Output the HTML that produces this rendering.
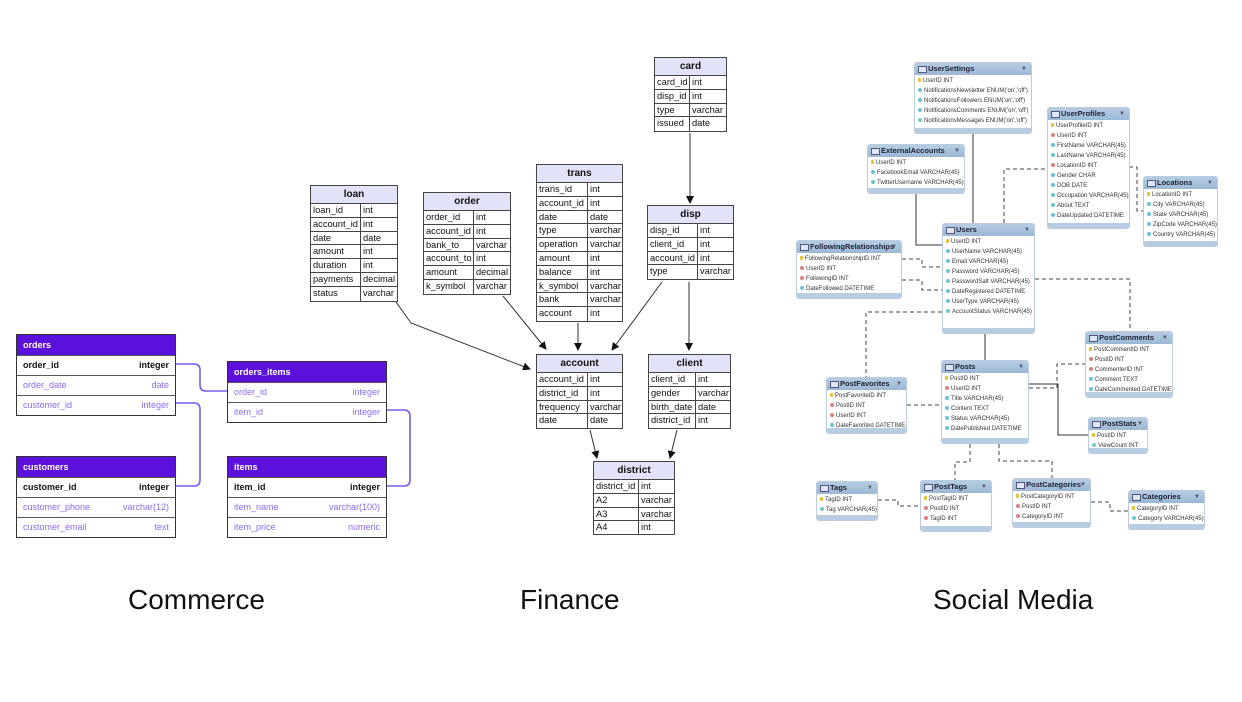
<!DOCTYPE html>
<html><head><meta charset="utf-8"><style>
body{margin:0;width:1242px;height:702px;background:#fff;position:relative;overflow:hidden;font-family:"Liberation Sans",sans-serif}
.ct{position:absolute;width:158px;border:1px solid #333;background:#fff;font-size:9px}
.ct .h{height:20px;line-height:20px;background:#5b10dc;color:#fff;padding-left:6px;font-weight:bold}
.ct .r{height:19px;line-height:19px;border-top:1px solid #555;padding:0 6px;display:flex;justify-content:space-between;color:#8a6cf0}
.ct .r.k{color:#111;font-weight:bold}
.ft{position:absolute;border:1px solid #444;background:#fff;font-size:9.3px;color:#111;box-sizing:border-box}
.ft .h{height:18px;line-height:18px;background:#e2e2f8;text-align:center;font-weight:bold;font-size:10px;border-bottom:1px solid #444;box-sizing:border-box}
.ft .r{height:13.8px;line-height:13.8px;border-bottom:1px solid #444;box-sizing:border-box;display:flex;white-space:nowrap;overflow:hidden}
.ft .r:last-child{border-bottom:none}
.ft .r span{padding-left:2px;box-sizing:border-box;overflow:hidden}
.ft .r span:first-child{border-right:1px solid #444;flex:none}
.st{position:absolute;border:1px solid #b9cbdc;border-radius:3px;background:#fff;font-size:6px;color:#333;box-sizing:border-box;overflow:hidden;white-space:nowrap}
.st .h{height:12px;line-height:12px;background:linear-gradient(#b5cde3,#9ab8d4);font-weight:bold;font-size:7.5px;color:#223;padding-left:13px;position:relative;margin-bottom:1px}
.st .h:before{content:"";position:absolute;left:3px;top:3px;width:7px;height:5px;border:1px solid #557;background:#dde6f5}
.st .h:after{content:"▼";position:absolute;right:4px;top:0;font-size:6px;color:#556}
.st .r{height:10px;line-height:10px;padding-left:3px}
.st .r:before{content:"";display:inline-block;width:4px;height:4px;border-radius:50%;background:#6cc3d5;margin-right:2px;vertical-align:middle}
.st .r.pk:before{background:#e8c030;border-radius:1px;width:3px}
.st .r.fk:before{background:#d98080}
.st .b{position:absolute;left:0;right:0;bottom:0;height:5px;background:#b7cde1}
.lab{position:absolute;font-size:28px;color:#111;top:584px}
</style></head><body>

<svg width="1242" height="702" style="position:absolute;left:0;top:0">
<defs><marker id="a" markerWidth="8" markerHeight="8" refX="7" refY="4" orient="auto" markerUnits="userSpaceOnUse"><path d="M0,0 L8,4 L0,8z" fill="#111"/></marker></defs>
<g fill="none" stroke="#7a5af0" stroke-width="1.6">
<path d="M175,364 H194 Q200,364 200,370 V385 Q200,391 206,391 H227"/>
<path d="M175,403 H194 Q200,403 200,409 V480 Q200,486 194,486 H175"/>
<path d="M386,410 H404 Q410,410 410,416 V480 Q410,486 404,486 H386"/>
</g>
<g fill="none" stroke="#333" stroke-width="1" marker-end="url(#a)">
<path d="M690,133 V203"/>
<path d="M396,302 L411,323 L530,369"/>
<path d="M503,296 L546,349"/>
<path d="M578,323 V350"/>
<path d="M662,282 L612,350"/>
<path d="M689,282 V350"/>
<path d="M590,430 L597,458"/>
<path d="M677,430 L670,458"/>
</g>
<g fill="none" stroke="#333" stroke-width="1">
<path d="M973,134 V223"/>
<path d="M916,194 V245 H942"/>
<path d="M1029,384 H1058 V435 H1088"/>
<path d="M985,334 V360"/>
</g>
<g fill="none" stroke="#444" stroke-width="1" stroke-dasharray="4,3">
<path d="M1004,223 V169 H1047"/>
<path d="M1129,167 H1137 V211 H1143"/>
<path d="M902,259 H922 V267 H942"/>
<path d="M902,280 H922 V290 H942"/>
<path d="M1035,279 H1130 V331"/>
<path d="M942,312 H866 V377"/>
<path d="M1029,388 H1057 V364 H1085"/>
<path d="M907,405 H941"/>
<path d="M970,444 V462 H955 V480"/>
<path d="M999,444 V461 H1052 V478"/>
<path d="M878,500 H898 V506 H920"/>
<path d="M1091,502 H1110 V511 H1128"/>
</g>
</svg>

<!-- Commerce -->
<div class="ct" style="left:16px;top:334px"><div class="h">orders</div><div class="r k"><span>order_id</span><span>integer</span></div><div class="r"><span>order_date</span><span>date</span></div><div class="r"><span>customer_id</span><span>integer</span></div></div>
<div class="ct" style="left:227px;top:361px"><div class="h">orders_items</div><div class="r"><span>order_id</span><span>integer</span></div><div class="r"><span>item_id</span><span>integer</span></div></div>
<div class="ct" style="left:16px;top:456px"><div class="h">customers</div><div class="r k"><span>customer_id</span><span>integer</span></div><div class="r"><span>customer_phone</span><span>varchar(12)</span></div><div class="r"><span>customer_email</span><span>text</span></div></div>
<div class="ct" style="left:227px;top:456px"><div class="h">items</div><div class="r k"><span>item_id</span><span>integer</span></div><div class="r"><span>item_name</span><span>varchar(100)</span></div><div class="r"><span>item_price</span><span>numeric</span></div></div>

<!-- Finance -->
<div class="ft" style="left:654px;top:57px;width:73px"><div class="h">card</div>
<div class="r"><span style="width:35px">card_id</span><span>int</span></div><div class="r"><span style="width:35px">disp_id</span><span>int</span></div><div class="r"><span style="width:35px">type</span><span>varchar</span></div><div class="r"><span style="width:35px">issued</span><span>date</span></div></div>
<div class="ft" style="left:536px;top:164px;width:87px"><div class="h">trans</div>
<div class="r"><span style="width:51px">trans_id</span><span>int</span></div><div class="r"><span style="width:51px">account_id</span><span>int</span></div><div class="r"><span style="width:51px">date</span><span>date</span></div><div class="r"><span style="width:51px">type</span><span>varchar</span></div><div class="r"><span style="width:51px">operation</span><span>varchar</span></div><div class="r"><span style="width:51px">amount</span><span>int</span></div><div class="r"><span style="width:51px">balance</span><span>int</span></div><div class="r"><span style="width:51px">k_symbol</span><span>varchar</span></div><div class="r"><span style="width:51px">bank</span><span>varchar</span></div><div class="r"><span style="width:51px">account</span><span>int</span></div></div>
<div class="ft" style="left:310px;top:185px;width:88px"><div class="h">loan</div>
<div class="r"><span style="width:50px">loan_id</span><span>int</span></div><div class="r"><span style="width:50px">account_id</span><span>int</span></div><div class="r"><span style="width:50px">date</span><span>date</span></div><div class="r"><span style="width:50px">amount</span><span>int</span></div><div class="r"><span style="width:50px">duration</span><span>int</span></div><div class="r"><span style="width:50px">payments</span><span>decimal</span></div><div class="r"><span style="width:50px">status</span><span>varchar</span></div></div>
<div class="ft" style="left:423px;top:192px;width:88px"><div class="h">order</div>
<div class="r"><span style="width:50px">order_id</span><span>int</span></div><div class="r"><span style="width:50px">account_id</span><span>int</span></div><div class="r"><span style="width:50px">bank_to</span><span>varchar</span></div><div class="r"><span style="width:50px">account_to</span><span>int</span></div><div class="r"><span style="width:50px">amount</span><span>decimal</span></div><div class="r"><span style="width:50px">k_symbol</span><span>varchar</span></div></div>
<div class="ft" style="left:647px;top:205px;width:87px"><div class="h">disp</div>
<div class="r"><span style="width:50px">disp_id</span><span>int</span></div><div class="r"><span style="width:50px">client_id</span><span>int</span></div><div class="r"><span style="width:50px">account_id</span><span>int</span></div><div class="r"><span style="width:50px">type</span><span>varchar</span></div></div>
<div class="ft" style="left:536px;top:354px;width:87px"><div class="h">account</div>
<div class="r"><span style="width:51px">account_id</span><span>int</span></div><div class="r"><span style="width:51px">district_id</span><span>int</span></div><div class="r"><span style="width:51px">frequency</span><span>varchar</span></div><div class="r"><span style="width:51px">date</span><span>date</span></div></div>
<div class="ft" style="left:648px;top:354px;width:83px"><div class="h">client</div>
<div class="r"><span style="width:47px">client_id</span><span>int</span></div><div class="r"><span style="width:47px">gender</span><span>varchar</span></div><div class="r"><span style="width:47px">birth_date</span><span>date</span></div><div class="r"><span style="width:47px">district_id</span><span>int</span></div></div>
<div class="ft" style="left:593px;top:461px;width:82px;height:74px;overflow:hidden;border-bottom:none"><div class="h">district</div>
<div class="r"><span style="width:45px">district_id</span><span>int</span></div><div class="r"><span style="width:45px">A2</span><span>varchar</span></div><div class="r"><span style="width:45px">A3</span><span>varchar</span></div><div class="r" style="border-bottom:1px solid #444"><span style="width:45px">A4</span><span>int</span></div></div>

<!-- Social -->
<div class="st" style="left:914px;top:62px;width:118px;height:72px"><div class="h">UserSettings</div><div class="r pk">UserID INT</div><div class="r">NotificationsNewsletter ENUM('on','off')</div><div class="r">NotificationsFollowers ENUM('on','off')</div><div class="r">NotificationsComments ENUM('on','off')</div><div class="r">NotificationsMessages ENUM('on','off')</div><div class="b"></div></div>
<div class="st" style="left:1047px;top:107px;width:83px;height:122px"><div class="h">UserProfiles</div><div class="r pk">UserProfileID INT</div><div class="r fk">UserID INT</div><div class="r">FirstName VARCHAR(45)</div><div class="r">LastName VARCHAR(45)</div><div class="r fk">LocationID INT</div><div class="r">Gender CHAR</div><div class="r">DOB DATE</div><div class="r">Occupation VARCHAR(45)</div><div class="r">About TEXT</div><div class="r">DateUpdated DATETIME</div><div class="b"></div></div>
<div class="st" style="left:867px;top:144px;width:98px;height:50px"><div class="h">ExternalAccounts</div><div class="r pk">UserID INT</div><div class="r">FacebookEmail VARCHAR(45)</div><div class="r">TwitterUsername VARCHAR(45)</div><div class="b"></div></div>
<div class="st" style="left:1143px;top:176px;width:75px;height:71px"><div class="h">Locations</div><div class="r pk">LocationID INT</div><div class="r">City VARCHAR(45)</div><div class="r">State VARCHAR(45)</div><div class="r">ZipCode VARCHAR(45)</div><div class="r">Country VARCHAR(45)</div><div class="b"></div></div>
<div class="st" style="left:942px;top:223px;width:93px;height:111px"><div class="h">Users</div><div class="r pk">UserID INT</div><div class="r">UserName VARCHAR(45)</div><div class="r">Email VARCHAR(45)</div><div class="r">Password VARCHAR(45)</div><div class="r">PasswordSalt VARCHAR(45)</div><div class="r">DateRegistered DATETIME</div><div class="r">UserType VARCHAR(45)</div><div class="r">AccountStatus VARCHAR(45)</div><div class="b"></div></div>
<div class="st" style="left:796px;top:240px;width:106px;height:59px"><div class="h">FollowingRelationships</div><div class="r pk">FollowingRelationshipID INT</div><div class="r fk">UserID INT</div><div class="r fk">FollowingID INT</div><div class="r">DateFollowed DATETIME</div><div class="b"></div></div>
<div class="st" style="left:1085px;top:331px;width:88px;height:67px"><div class="h">PostComments</div><div class="r pk">PostCommentID INT</div><div class="r fk">PostID INT</div><div class="r fk">CommenterID INT</div><div class="r">Comment TEXT</div><div class="r">DateCommented DATETIME</div><div class="b"></div></div>
<div class="st" style="left:941px;top:360px;width:88px;height:84px"><div class="h">Posts</div><div class="r pk">PostID INT</div><div class="r fk">UserID INT</div><div class="r">Title VARCHAR(45)</div><div class="r">Content TEXT</div><div class="r">Status VARCHAR(45)</div><div class="r">DatePublished DATETIME</div><div class="b"></div></div>
<div class="st" style="left:826px;top:377px;width:81px;height:57px"><div class="h">PostFavorites</div><div class="r pk">PostFavoriteID INT</div><div class="r fk">PostID INT</div><div class="r fk">UserID INT</div><div class="r">DateFavorited DATETIME</div><div class="b"></div></div>
<div class="st" style="left:1088px;top:417px;width:60px;height:37px"><div class="h">PostStats</div><div class="r pk">PostID INT</div><div class="r">ViewCount INT</div><div class="b"></div></div>
<div class="st" style="left:816px;top:481px;width:62px;height:40px"><div class="h">Tags</div><div class="r pk">TagID INT</div><div class="r">Tag VARCHAR(45)</div><div class="b"></div></div>
<div class="st" style="left:920px;top:480px;width:72px;height:52px"><div class="h">PostTags</div><div class="r pk">PostTagID INT</div><div class="r fk">PostID INT</div><div class="r fk">TagID INT</div><div class="b"></div></div>
<div class="st" style="left:1012px;top:478px;width:79px;height:50px"><div class="h">PostCategories</div><div class="r pk">PostCategoryID INT</div><div class="r fk">PostID INT</div><div class="r fk">CategoryID INT</div><div class="b"></div></div>
<div class="st" style="left:1128px;top:490px;width:77px;height:40px"><div class="h">Categories</div><div class="r pk">CategoryID INT</div><div class="r">Category VARCHAR(45)</div><div class="b"></div></div>

<div class="lab" style="left:128px">Commerce</div>
<div class="lab" style="left:520px">Finance</div>
<div class="lab" style="left:933px">Social Media</div>
</body></html>
